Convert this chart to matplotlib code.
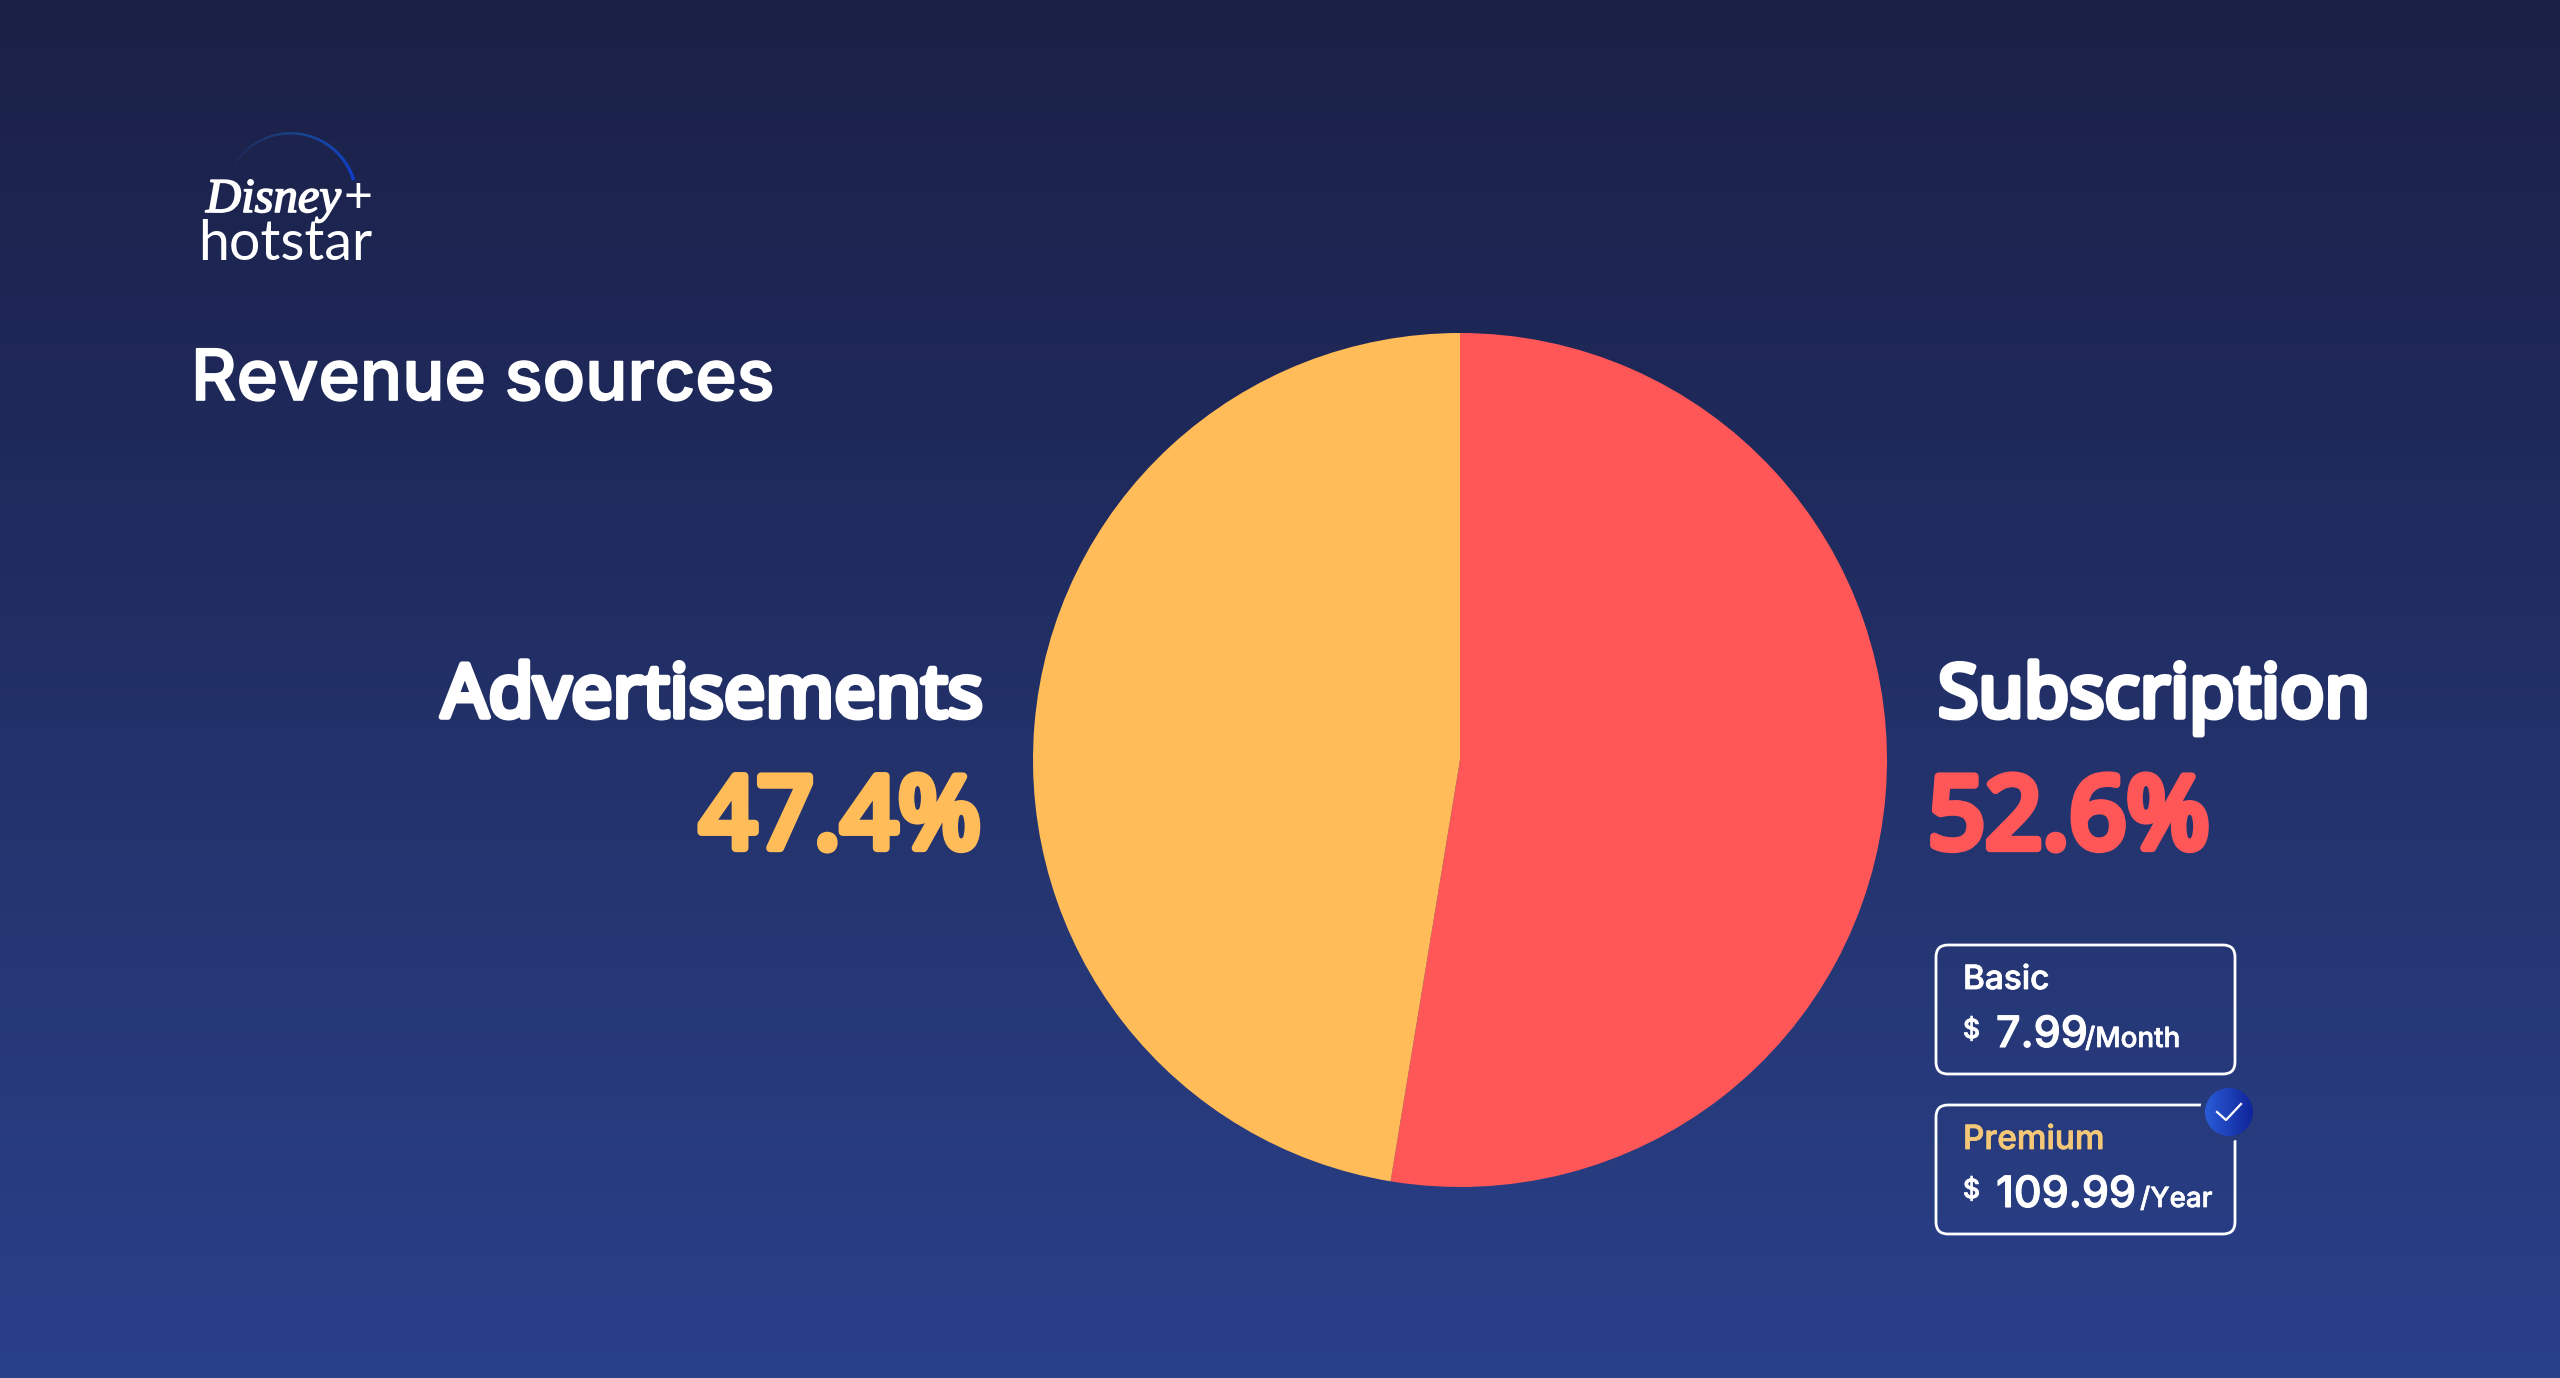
import numpy as np
import matplotlib
matplotlib.use('Agg')
import matplotlib.pyplot as plt
import matplotlib.patheffects as pe
from matplotlib.collections import LineCollection
from matplotlib.colors import LinearSegmentedColormap
from matplotlib.patches import Circle, FancyBboxPatch

# chart data
sources = ['Subscription', 'Advertisements']
shares = [52.6, 47.4]
share_labels = ['52.6%', '47.4%']
slice_colors = ['#ff5757', '#ffbc58']

plans = ['Basic', 'Premium']
plan_prices = ['7.99', '109.99']
plan_periods = ['/Month', '/Year']

W, H = 2560, 1378
f = plt.figure(figsize=(W / 100, H / 100), dpi=100)

# background gradient, full figure
bg = f.add_axes([0, 0, 1, 1])
bg_cmap = LinearSegmentedColormap.from_list('bg', ['#1b2046', '#1f2a5c', '#253673', '#29408a'])
bg.imshow(np.linspace(0, 1, 256).reshape(-1, 1), aspect='auto', cmap=bg_cmap, extent=[0, W, H, 0])
bg.set_xlim(0, W)
bg.set_ylim(H, 0)
bg.axis('off')

# pie
cx, cy, r = 1460, 760, 427
pie_ax = f.add_axes([(cx - r) / W, 1 - (cy + r) / H, 2 * r / W, 2 * r / H])
pie_ax.pie(shares, colors=slice_colors, startangle=90, counterclock=False, radius=1,
           wedgeprops={'linewidth': 0})
pie_ax.set_xlim(-1, 1)
pie_ax.set_ylim(-1, 1)

head = 'Noto Sans'
body = 'Inter'

#no heavy weights come through for these families, so thicken with a stroke
def thick(c, w):
    return [pe.withStroke(linewidth=w, foreground=c)]

bg.text(191, 400, 'Revenue sources', color='white', fontsize=50.7, family=body, weight='medium', va='baseline',
        path_effects=thick('white', 1.2))

bg.text(983, 717, sources[1], color='white', fontsize=53, family=head, weight='bold', ha='right', va='baseline',
        path_effects=thick('white', 4))
bg.text(981, 848, share_labels[1], color=slice_colors[1], fontsize=72, family=head, weight='bold', ha='right', va='baseline',
        path_effects=thick(slice_colors[1], 6))
bg.text(1938, 717, sources[0], color='white', fontsize=53, family=head, weight='bold', va='baseline',
        path_effects=thick('white', 4))
bg.text(1928, 848, share_labels[0], color=slice_colors[0], fontsize=72, family=head, weight='bold', va='baseline',
        path_effects=thick(slice_colors[0], 6))

# plan boxes
box_tops = [945, 1105]
name_colors = ['white', '#f5c878']
period_x = [2085, 2140]
for i, top in enumerate(box_tops):
    bg.add_patch(FancyBboxPatch((1936 + 12, top + 12), 299 - 24, 129 - 24, boxstyle='round,pad=12,rounding_size=12',
                                fc='none', ec='white', lw=2))
    bg.text(1963, top + 44, plans[i], color=name_colors[i], fontsize=24, family=body, weight='medium', va='baseline',
            path_effects=thick(name_colors[i], 0.6))
    bg.text(1963, top + 93, '$', color='white', fontsize=19, family=body, weight='medium', va='baseline',
            path_effects=thick('white', 0.6))
    bg.text(1996, top + 102, plan_prices[i], color='white', fontsize=31, family=body, weight='medium', va='baseline',
            path_effects=thick('white', 0.8))
    bg.text(period_x[i], top + 102, plan_periods[i], color='white', fontsize=20, family=body, weight='medium', va='baseline',
            path_effects=thick('white', 0.5))

# badge on the premium box
bx, by, br = 2229, 1112, 24
bg.add_patch(Circle((bx, by), br + 5, fc='#273a7c', ec='none', zorder=3))
grad = LinearSegmentedColormap.from_list('badge', ['#2a5bd7', '#10249a'])
im = bg.imshow(np.linspace(0, 1, 64).reshape(1, -1), aspect='auto', cmap=grad,
               extent=[bx - br, bx + br, by + br, by - br], zorder=4)
im.set_clip_path(Circle((bx, by), br, transform=bg.transData))
bg.set_xlim(0, W)
bg.set_ylim(H, 0)
bg.plot([bx - 12, bx - 3, bx + 12], [by + 0, by + 8, by - 8], color='white', lw=1.6, zorder=5)

# logo
bg.text(198, 260, 'hotstar', color='white', fontsize=40, family='Lato', weight='normal', va='baseline')
bg.text(206, 212, 'Disney', color='white', fontsize=35, family='Liberation Serif', style='italic', va='baseline',
        path_effects=thick('white', 1.2))
bg.text(358, 212, '+', color='white', fontsize=36, family='Lato', weight='normal', ha='center', va='baseline')
th = np.radians(np.linspace(147, 17, 60))
ax_x, ax_y = 290.5 + 66 * np.cos(th), 199.3 - 66 * np.sin(th)
pts = np.column_stack([ax_x, ax_y]).reshape(-1, 1, 2)
segs = np.concatenate([pts[:-1], pts[1:]], axis=1)
arc_cmap = LinearSegmentedColormap.from_list('arc', ['#1f2a5c', '#174a94', '#0f3fd0'])
bg.add_collection(LineCollection(segs, cmap=arc_cmap, array=np.linspace(0, 1, 59), linewidths=np.linspace(1, 2.5, 59)))

f.savefig('out.png', dpi=100)
